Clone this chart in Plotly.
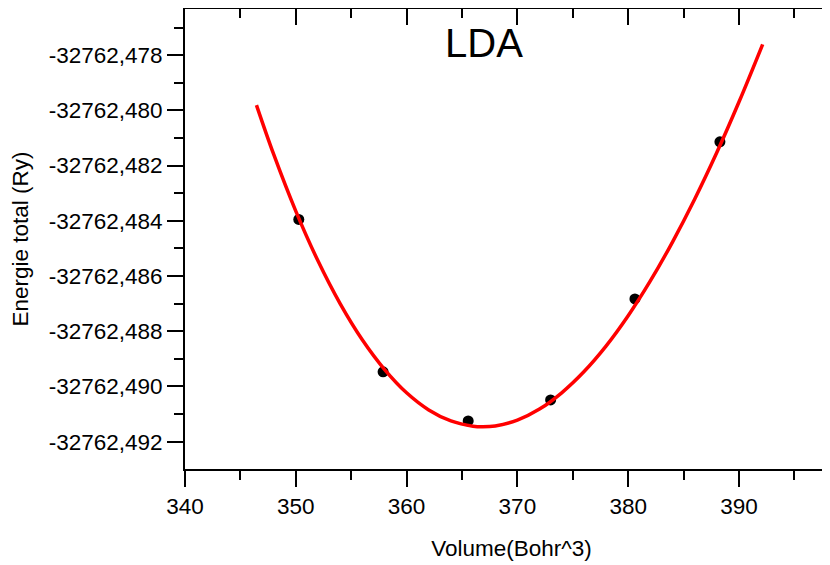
import plotly.graph_objects as go

# Measured points (Volume in Bohr^3, total energy in Ry)
volume = [350.27, 357.88, 365.56, 373.00, 380.61, 388.28]
energy = [-32762.48395, -32762.48947, -32762.49125, -32762.49049, -32762.48683, -32762.48114]

# Fitted curve
fit_volume = [346.45, 348, 350, 352, 354, 356, 358, 360, 362, 364, 366, 366.88,
              368, 370, 372, 374, 376, 378, 380, 382, 384, 386, 388, 390, 392.14]
fit_energy = [-32762.47981, -32762.48159, -32762.48365, -32762.48545, -32762.48700,
              -32762.48831, -32762.48938, -32762.49023, -32762.49085, -32762.49125,
              -32762.49144, -32762.49146, -32762.49143, -32762.49122, -32762.49082,
              -32762.49023, -32762.48947, -32762.48854, -32762.48744, -32762.48618,
              -32762.48477, -32762.48322, -32762.48153, -32762.47970, -32762.47761]

x_ticks = [340, 350, 360, 370, 380, 390]
x_tick_labels = ["340", "350", "360", "370", "380", "390"]
y_ticks = [-32762.478, -32762.480, -32762.482, -32762.484, -32762.486,
           -32762.488, -32762.490, -32762.492]
y_tick_labels = ["-32762,478", "-32762,480", "-32762,482", "-32762,484", "-32762,486",
                 "-32762,488", "-32762,490", "-32762,492"]

x_range = [340, 398.94]
y_range = [-32762.49299, -32762.47633]

FONT = "Liberation Sans, Arial, sans-serif"

fig = go.Figure()
fig.add_trace(go.Scatter(x=volume, y=energy, mode="markers",
                         marker=dict(color="black", size=11), showlegend=False))
fig.add_trace(go.Scatter(x=fit_volume, y=fit_energy, mode="lines",
                         line=dict(color="#ff0000", width=3.5, shape="spline", smoothing=1.0),
                         showlegend=False))
# invisible trace to carry the mirrored (top/right) axes
fig.add_trace(go.Scatter(x=volume, y=energy, mode="markers", xaxis="x2", yaxis="y2",
                         marker=dict(opacity=0), hoverinfo="skip", showlegend=False))

axis_common = dict(showgrid=False, zeroline=False, linecolor="black", linewidth=2,
                   tickcolor="black", tickwidth=2)

fig.update_layout(
    width=830, height=565,
    margin=dict(l=177, r=0, t=1, b=104, autoexpand=False),
    paper_bgcolor="white", plot_bgcolor="white",
    font=dict(family=FONT, size=22.5, color="black"),
    title=dict(text="LDA", x=476 / 830, y=1 - 35 / 565, xanchor="center", yanchor="middle",
               font=dict(family=FONT, size=40, color="black")),
    xaxis=dict(range=x_range, tickmode="array", tickvals=x_ticks, ticktext=x_tick_labels,
               ticks="outside", ticklen=16, showline=True,
               minor=dict(dtick=5, tick0=340, ticklen=9, ticks="outside",
                          tickcolor="black", tickwidth=2),
               title=dict(text="Volume(Bohr^3)", standoff=22,
                          font=dict(family=FONT, size=22.5)),
               automargin=False, **axis_common),
    yaxis=dict(range=y_range, tickmode="array", tickvals=y_ticks, ticktext=y_tick_labels,
               ticks="outside", ticklen=16, showline=True,
               minor=dict(dtick=0.001, tick0=-32762.478, ticklen=9, ticks="outside",
                          tickcolor="black", tickwidth=2),
               title=dict(text="Energie total (Ry)", standoff=15,
                          font=dict(family=FONT, size=22.5)),
               automargin=False, **axis_common),
    xaxis2=dict(overlaying="x", matches="x", side="top", anchor="y2", range=x_range,
                tickmode="array", tickvals=x_ticks, ticks="inside", ticklen=16,
                showticklabels=False, showline=True,
                minor=dict(dtick=5, tick0=340, ticklen=9, ticks="inside",
                           tickcolor="black", tickwidth=2),
                **axis_common),
    yaxis2=dict(overlaying="y", matches="y", side="right", anchor="x2", range=y_range,
                tickmode="array", tickvals=y_ticks, ticks="inside", ticklen=16,
                showticklabels=False, showline=True,
                minor=dict(dtick=0.001, tick0=-32762.478, ticklen=9, ticks="inside",
                           tickcolor="black", tickwidth=2),
                **axis_common),
)

fig.write_html("out.html")
